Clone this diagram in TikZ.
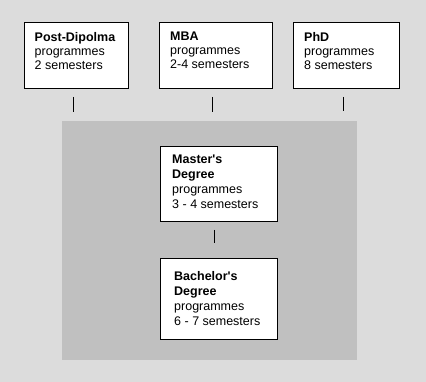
\documentclass[tikz,border=0pt]{standalone}
\usepackage{fontspec}
\newfontfamily\arial{Liberation Sans}
\definecolor{bgout}{HTML}{DCDCDC}
\definecolor{bgin}{HTML}{C0C0C0}
\begin{document}
\begin{tikzpicture}[x=1pt,y=-1pt,
  box/.style={draw=black, line width=1pt, fill=white, inner sep=0pt, anchor=north west},
  txt/.style={anchor=north west, inner sep=0pt, align=left, font=\arial\fontsize{12.5}{14}\selectfont},
  txtb/.style={txt, font=\arial\fontsize{12.5}{15}\selectfont},
  tick/.style={draw=black, line width=1pt}]
\useasboundingbox (0,0) rectangle (426,382);
\fill[bgout] (0,0) rectangle (426,382);
\fill[bgin] (62,121) rectangle (356.5,359.5);
% top boxes
\node[box, minimum width=104pt, minimum height=66pt] (b1) at (23.5,22.5) {};
\node[box, minimum width=113pt, minimum height=66pt] (b2) at (158.5,22.5) {};
\node[box, minimum width=106pt, minimum height=66pt] (b3) at (292.5,22.5) {};
\node[box, minimum width=117pt, minimum height=75pt] (m) at (159.5,146.5) {};
\node[box, minimum width=117pt, minimum height=80pt] (b) at (159.5,258.5) {};
% texts
\node[txt] (t1) at (34.5,32) {\textbf{Post-Dipolma}\\programmes\\2 semesters};
\node[txt] (t2) at (170,32) {\textbf{MBA}\\programmes\\2-4 semesters};
\node[txt] (t3) at (304,32) {\textbf{PhD}\\programmes\\8 semesters};
\node[txtb] (tm) at (172,155) {\textbf{Master's}\\\textbf{Degree}\\programmes\\3 - 4 semesters};
\node[txtb] (tb) at (174,271) {\textbf{Bachelor's}\\\textbf{Degree}\\programmes\\6 - 7 semesters};
% ticks
\coordinate (k1a) at (73.5,97);  \coordinate (k1b) at (73.5,112);
\coordinate (k2a) at (212.5,97); \coordinate (k2b) at (212.5,112);
\coordinate (k3a) at (343.5,97); \coordinate (k3b) at (343.5,111);
\coordinate (k4a) at (214.5,230); \coordinate (k4b) at (214.5,243);
\draw[tick] (k1a) -- (k1b);
\draw[tick] (k2a) -- (k2b);
\draw[tick] (k3a) -- (k3b);
\draw[tick] (k4a) -- (k4b);
\end{tikzpicture}
\end{document}
